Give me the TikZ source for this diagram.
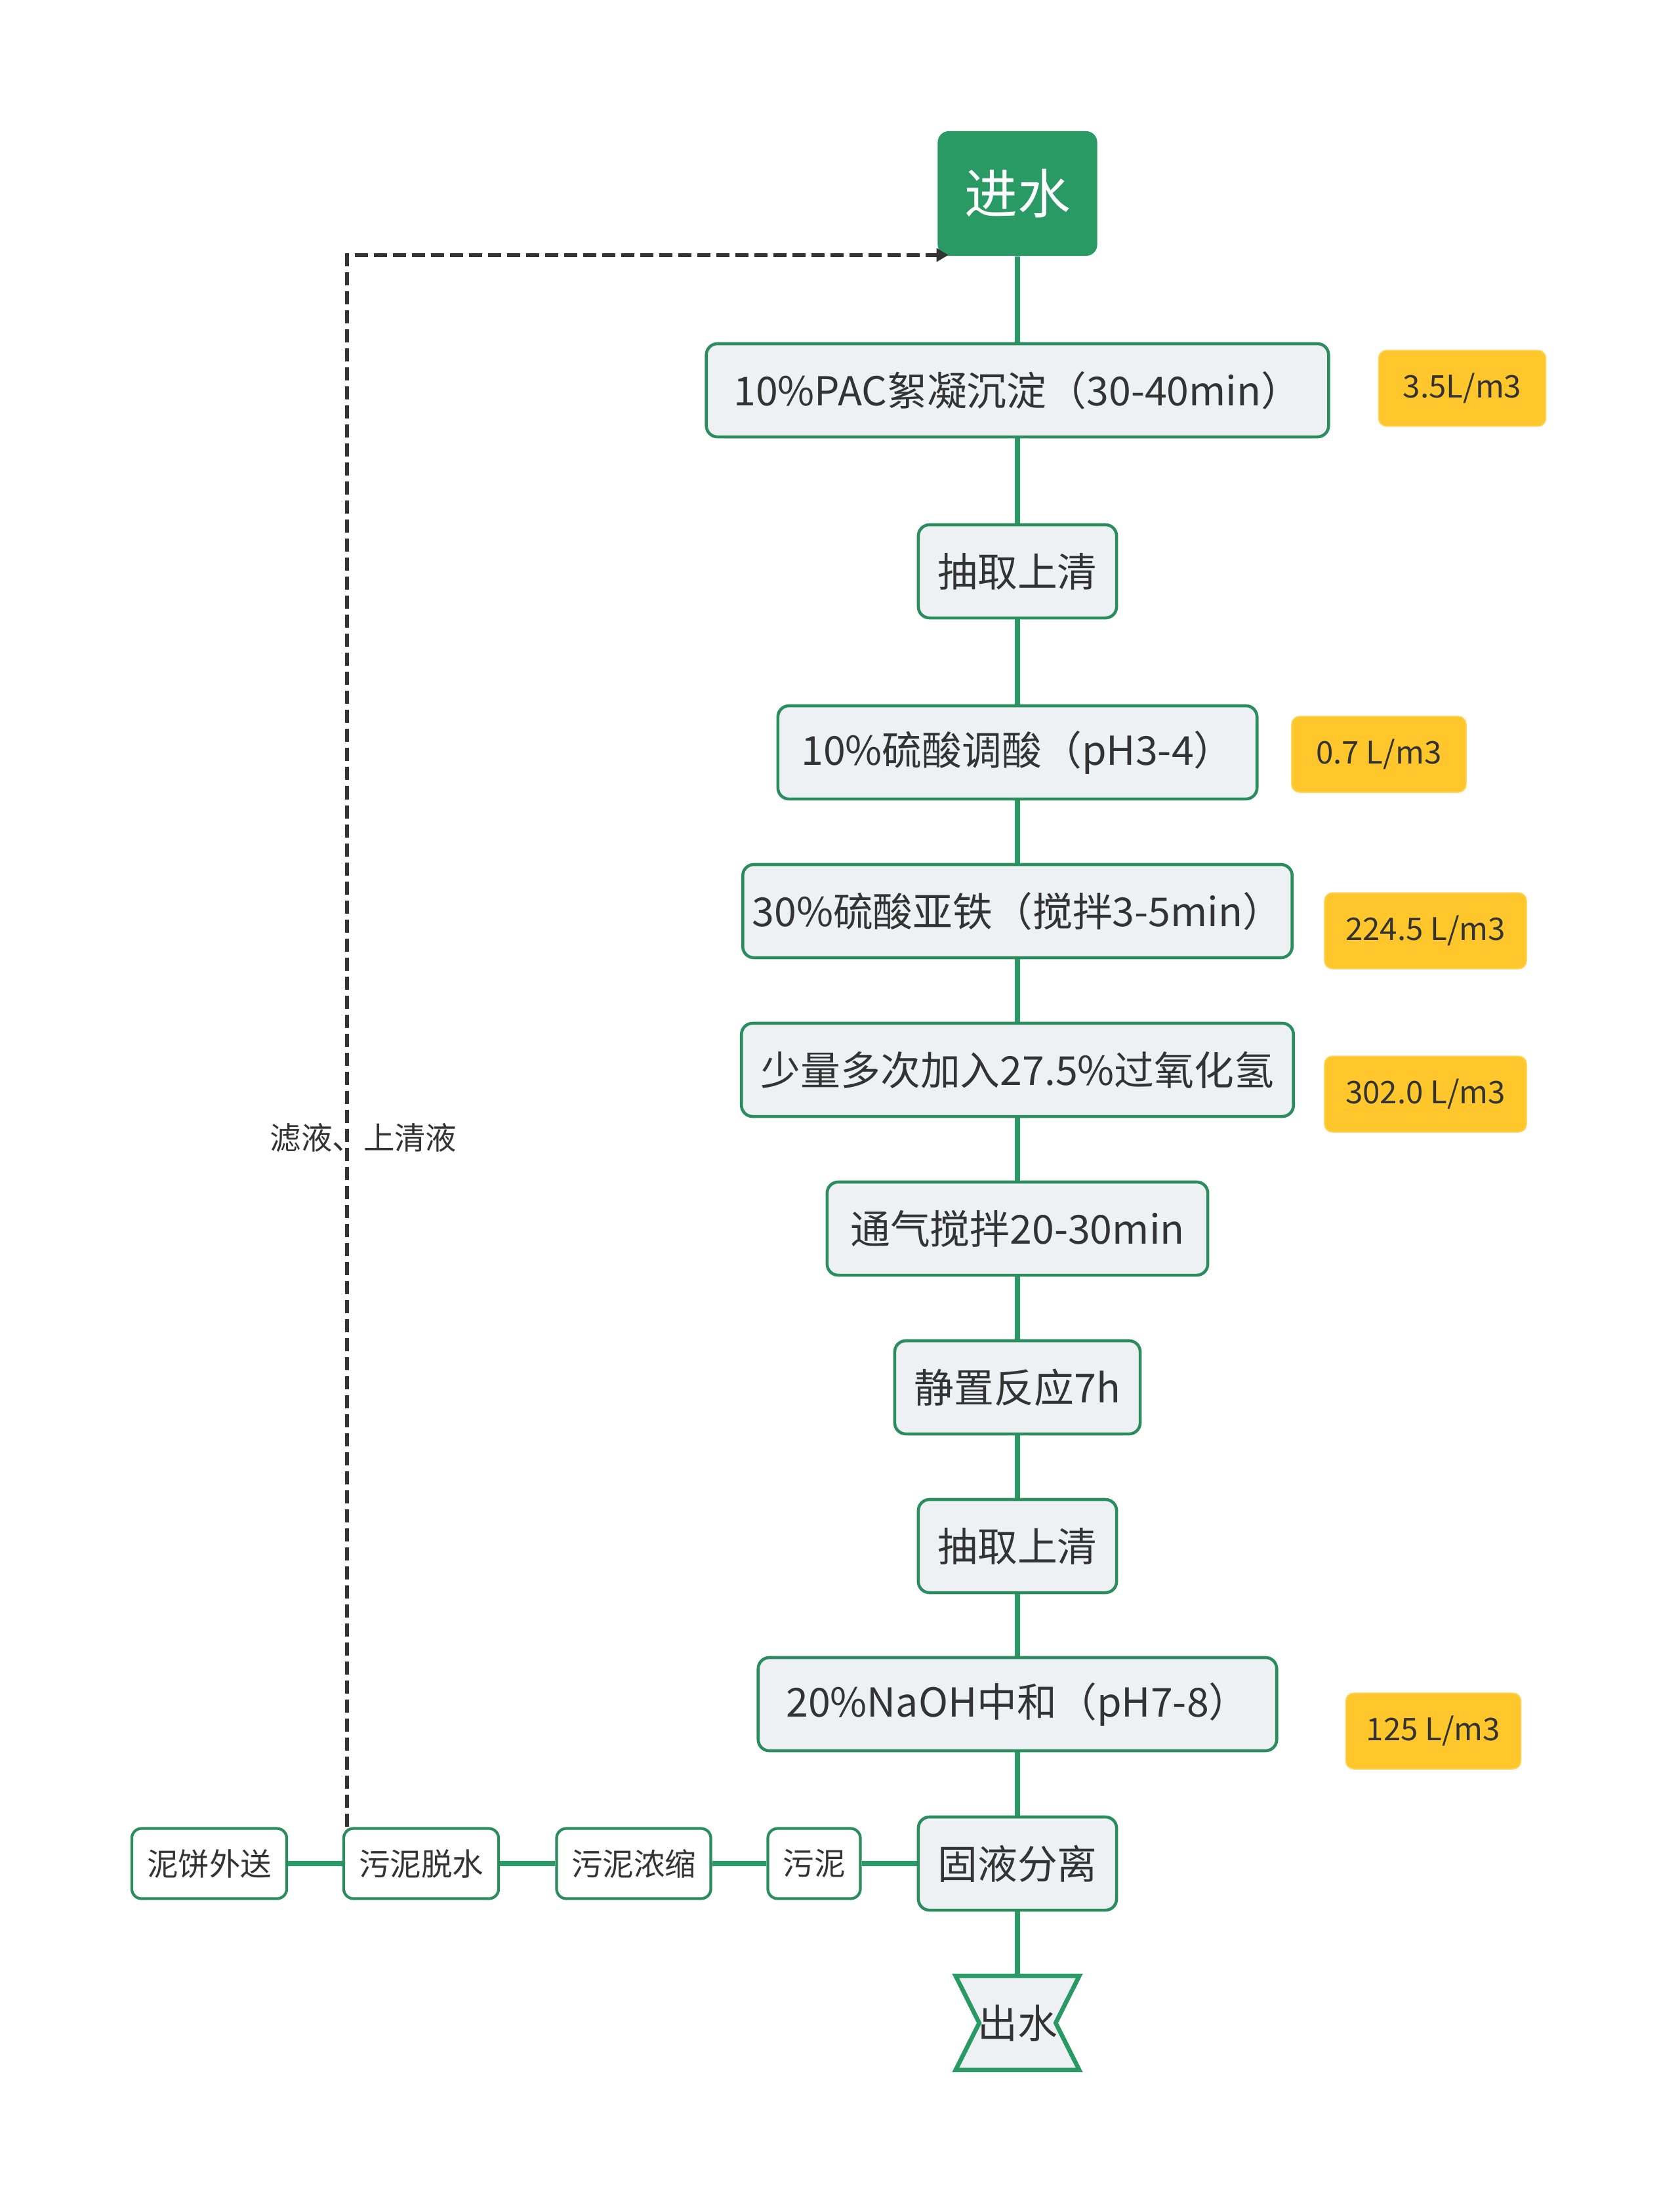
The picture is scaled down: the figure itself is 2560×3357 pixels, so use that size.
\documentclass[tikz,border=0pt]{standalone}
\usepackage{fontspec}
\setmainfont{Noto Sans CJK SC}
\usetikzlibrary{arrows.meta,backgrounds,calc}
\definecolor{gr}{HTML}{2A9A65}
\definecolor{grline}{HTML}{2B8C5E}
\definecolor{boxfill}{HTML}{EEF1F4}
\definecolor{tagyel}{HTML}{FFC72C}
\definecolor{txt}{HTML}{333333}
\definecolor{dash}{HTML}{333333}
\newcommand{\fmain}{\fontsize{17.3pt}{20pt}\selectfont}
\newcommand{\fsmall}{\fontsize{13.5pt}{16pt}\selectfont}
\newcommand{\ftitle}{\fontsize{23pt}{26pt}\selectfont}
\begin{document}
\begin{tikzpicture}[x=0.01cm,y=-0.01cm,
  mainbox/.style={draw=grline, line width=1.3pt, fill=boxfill, rounded corners=0.17cm,
    minimum height=1.42cm, text=txt, font=\fmain, inner sep=0pt},
  smallbox/.style={draw=grline, line width=1.2pt, fill=white, rounded corners=0.15cm,
    minimum height=1.07cm, text=txt, font=\fsmall, inner sep=0pt},
  tagbox/.style={draw=tagyel!70!white, line width=0.4pt, fill=tagyel, rounded corners=0.12cm,
    minimum height=1.16cm, text=txt, font=\fsmall, inner sep=0pt},
  link/.style={draw=gr, line width=2.3pt},
  back/.style={draw=dash, line width=1.6pt, dash pattern=on 0.2cm off 0.09cm,
    -{Triangle[length=0.18cm,width=0.2cm]}}
]
\useasboundingbox (0,0) rectangle (2560,3357);

% title node
\node[fill=gr, rounded corners=0.17cm, minimum width=2.43cm, minimum height=1.9cm,
  text=white, font=\ftitle, inner sep=0pt] (jin) at (1551,295) {进水};

% main chain
\node[mainbox, minimum width=9.48cm] (n1) at (1551,595) {10\%PAC絮凝沉淀（30-40min）};
\node[mainbox, minimum width=3.02cm] (n2) at (1551,871) {抽取上清};
\node[mainbox, minimum width=7.30cm] (n3) at (1551,1147) {10\%硫酸调酸（pH3-4）};
\node[mainbox, minimum width=8.37cm] (n4) at (1551,1389) {30\%硫酸亚铁（搅拌3-5min）};
\node[mainbox, minimum width=8.41cm] (n5) at (1551,1631) {少量多次加入27.5\%过氧化氢};
\node[mainbox, minimum width=5.80cm] (n6) at (1551,1873) {通气搅拌20-30min};
\node[mainbox, minimum width=3.74cm] (n7) at (1551,2115) {静置反应7h};
\node[mainbox, minimum width=3.02cm] (n8) at (1551,2357) {抽取上清};
\node[mainbox, minimum width=7.90cm] (n9) at (1551,2598) {20\%NaOH中和（pH7-8）};
\node[mainbox, minimum width=3.02cm] (n10) at (1551,2841) {固液分离};

% outlet
\node[minimum width=1.87cm, minimum height=1.42cm, text=txt, font=\fmain, inner sep=0pt]
  (out) at (1551,3084) {出水};

% tags
\node[tagbox, minimum width=2.55cm] (t1) at (2229,592) {3.5L/m3};
\node[tagbox, minimum width=2.66cm] (t3) at (2102,1150) {0.7 L/m3};
\node[tagbox, minimum width=3.08cm] (t4) at (2173,1419) {224.5 L/m3};
\node[tagbox, minimum width=3.08cm] (t5) at (2173,1668) {302.0 L/m3};
\node[tagbox, minimum width=2.67cm] (t9) at (2185,2639) {125 L/m3};

% sludge branch
\node[smallbox, minimum width=1.41cm] (s1) at (1241,2841) {污泥};
\node[smallbox, minimum width=2.35cm] (s2) at (966,2841) {污泥浓缩};
\node[smallbox, minimum width=2.36cm] (s3) at (642,2841) {污泥脱水};
\node[smallbox, minimum width=2.36cm] (s4) at (319,2841) {泥饼外送};

% return label
\node[fill=white, text=txt, font=\fsmall, inner sep=2pt] (lbl) at (554,1734) {滤液、上清液};

\begin{scope}[on background layer]
  \fill[white] (0,0) rectangle (2560,3357);
  \draw[link] (jin) -- (n1);
  \draw[link] (n1) -- (n2);
  \draw[link] (n2) -- (n3);
  \draw[link] (n3) -- (n4);
  \draw[link] (n4) -- (n5);
  \draw[link] (n5) -- (n6);
  \draw[link] (n6) -- (n7);
  \draw[link] (n7) -- (n8);
  \draw[link] (n8) -- (n9);
  \draw[link] (n9) -- (n10);
  \draw[link] (n10) -- (out.north);
  \draw[link] (n10.west) -- (s1.east);
  \draw[link] (s1) -- (s2);
  \draw[link] (s2) -- (s3);
  \draw[link] (s3) -- (s4);
  % hourglass outlet shape
  \draw[draw=gr, line width=1.9pt, fill=boxfill, line join=miter]
    (out.north west) -- (out.north east) -- ($(out.east)+(-36,0)$) -- (out.south east)
    -- (out.south west) -- ($(out.west)+(36,0)$) -- cycle;
\end{scope}

% dashed return
\coordinate (dstart) at ($(s3.north west)+(7,0)$);
\coordinate (dend) at ($(jin.south west)+(17,-2)$);
\draw[back] (dstart) |- (dend);
\end{tikzpicture}
\end{document}
